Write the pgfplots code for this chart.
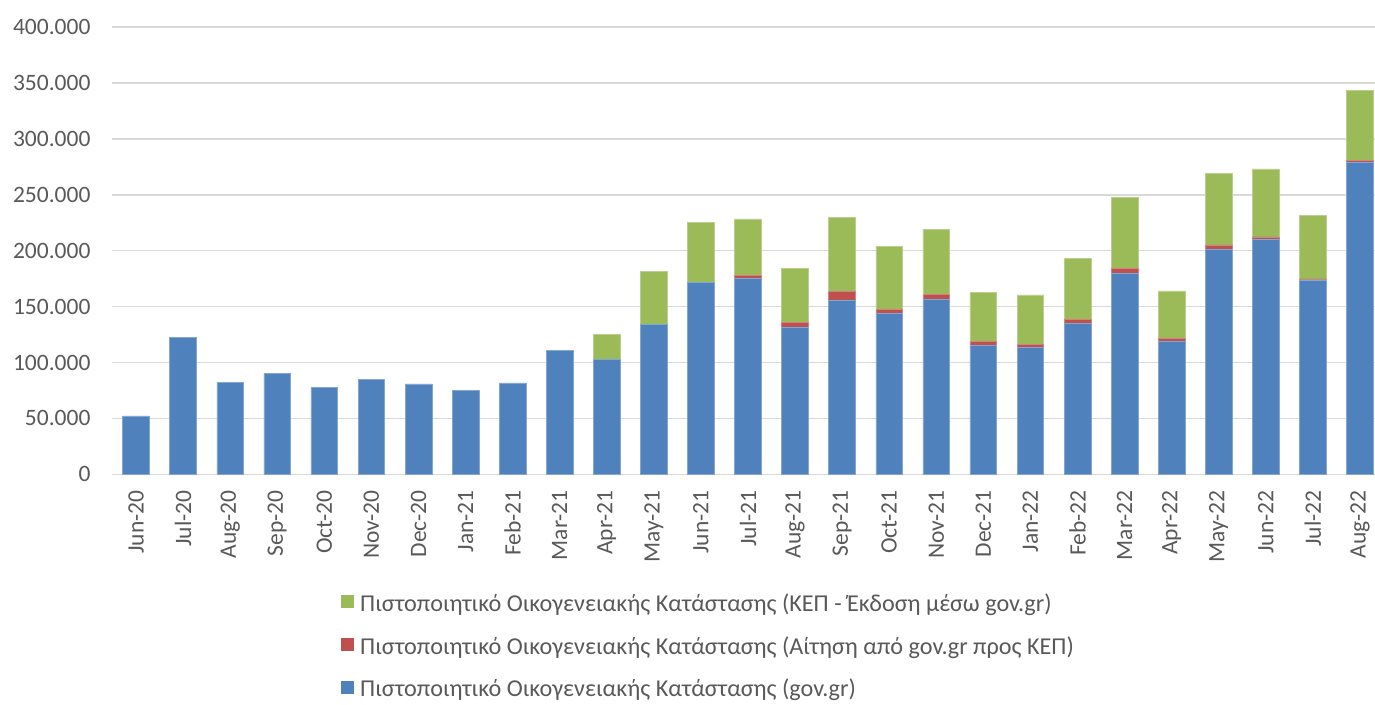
\documentclass[border=0pt]{standalone}
\usepackage{fontspec}
\setmainfont{Carlito}
\usepackage{pgfplots}
\usepackage{pgfplotstable}
\pgfplotsset{compat=1.18}
\definecolor{cblue}{HTML}{4F81BD}
\definecolor{cred}{HTML}{C0504D}
\definecolor{cgreen}{HTML}{9BBB59}
\definecolor{cgrid}{HTML}{D9D9D9}
\definecolor{ctext}{HTML}{595959}

\pgfplotstableread{
x blue red green
0 52150 0 0
1 122600 0 0
2 82300 0 0
3 90300 0 0
4 77800 0 0
5 85200 0 0
6 80800 0 0
7 75400 0 0
8 81700 0 0
9 110900 0 0
10 103100 0 21800
11 133800 0 47400
12 171400 0 53700
13 175000 2700 50700
14 131800 3800 48900
15 155600 7700 66200
16 144000 3600 56300
17 156500 4200 58400
18 115000 3600 44200
19 113200 2700 44500
20 135300 3000 54900
21 179800 4100 63500
22 119000 2900 42100
23 201300 3800 63800
24 210200 2100 60800
25 173200 1500 56600
26 278700 1800 62600
}\datatable

\begin{document}
\fontsize{23.5}{28}\selectfont
\begin{tikzpicture}
\begin{axis}[
  at={(0,0)}, anchor=south west,
  scale only axis,
  width=1262.5pt, height=447.2pt,
  ybar stacked,
  bar width=0.567,
  xmin=-0.5, xmax=26.32,
  ymin=0, ymax=400000,
  ytick={0,50000,...,400000},
  xtick={0,...,26},
  xticklabels={Jun-20,Jul-20,Aug-20,Sep-20,Oct-20,Nov-20,Dec-20,Jan-21,Feb-21,Mar-21,Apr-21,May-21,Jun-21,Jul-21,Aug-21,Sep-21,Oct-21,Nov-21,Dec-21,Jan-22,Feb-22,Mar-22,Apr-22,May-22,Jun-22,Jul-22,Aug-22},
  scaled y ticks=false,
  yticklabel style={/pgf/number format/fixed, /pgf/number format/1000 sep={.}, /pgf/number format/assume math mode=true},
  y tick label style={text=ctext, font=\fontsize{23.5}{28}\selectfont, xshift=-14pt},
  x tick label style={text=ctext, font=\fontsize{23.5}{28}\selectfont, rotate=90, anchor=east, yshift=0pt, xshift=-8pt},
  major tick length=0pt,
  ymajorgrids,
  major grid style={draw=cgrid, line width=1.5pt},
  axis x line*=bottom,
  axis y line*=left,
  y axis line style={draw=none},
  x axis line style={draw=cgrid, line width=1.5pt, -},
  clip=false,
  reverse legend,
  legend style={at={(axis description cs:0.181,-0.262)}, anchor=north west, draw=none, fill=none, inner sep=0pt, row sep=17.5pt, font=\fontsize{24.2}{28}\selectfont, text=ctext, legend cell align=left, nodes={inner xsep=6pt}},
  legend image code/.code={\fill[#1,draw=none] (0pt,-4pt) rectangle (13pt,9pt);},
]
\addplot[fill=cblue, draw=cblue!70!white, line width=0.6pt] table[x=x, y=blue] {\datatable};
\addplot[fill=cred, draw=cred!70!white, line width=0.6pt] table[x=x, y=red] {\datatable};
\addplot[fill=cgreen, draw=cgreen!70!white, line width=0.6pt] table[x=x, y=green] {\datatable};
\legend{Πιστοποιητικό Οικογενειακής Κατάστασης (gov.gr), Πιστοποιητικό Οικογενειακής Κατάστασης (Αίτηση από gov.gr προς ΚΕΠ), Πιστοποιητικό Οικογενειακής Κατάστασης (ΚΕΠ - Έκδοση μέσω gov.gr)}
\end{axis}
\pgfresetboundingbox
\path (-112.5pt,-229.7pt) rectangle (1262.5pt,474.3pt);
\end{tikzpicture}
\end{document}
